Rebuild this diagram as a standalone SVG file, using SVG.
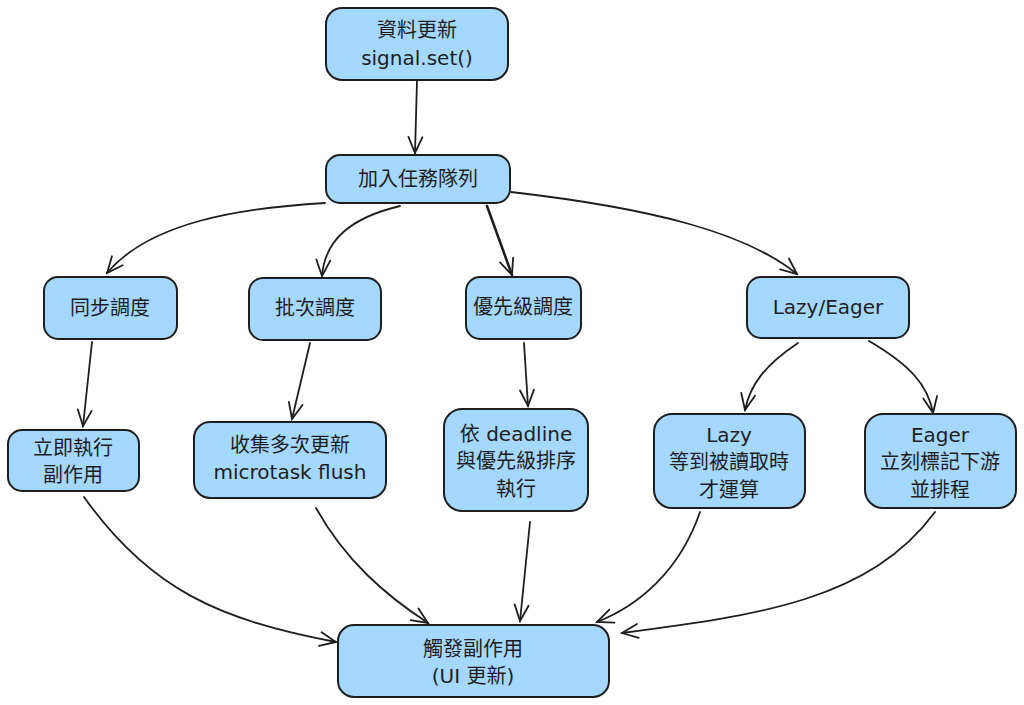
<svg xmlns="http://www.w3.org/2000/svg" width="1024" height="705" viewBox="0 0 1024 705">
<defs>
<style>
.n rect{fill:#a5d8ff;stroke:#1e1e1e;stroke-width:2}
.n text{font-family:"DejaVu Sans","Noto Sans CJK TC",sans-serif;font-size:20px;fill:#1e1e1e;text-anchor:middle}
.c path{fill:none;stroke:#1e1e1e;stroke-width:1.8;stroke-linecap:round}
</style>
<marker id="a" viewBox="0 0 20 20" refX="18" refY="10" markerWidth="20" markerHeight="20" markerUnits="userSpaceOnUse" orient="auto">
<path d="M2 3 L18 10 L2 17" fill="none" stroke="#1e1e1e" stroke-width="1.8" stroke-linecap="round"/>
</marker>
</defs>
<rect width="1024" height="705" fill="#ffffff"/>
<g class="c">
<path d="M417 81 L415 153" marker-end="url(#a)"/>
<path d="M325 203 C240 208 150 222 107 273" marker-end="url(#a)"/>
<path d="M400 206 C350 218 325 240 322 276" marker-end="url(#a)"/>
<path d="M487 206 L512 275" marker-end="url(#a)" style="stroke-width:2.6"/>
<path d="M511 192 C650 208 745 232 797 274" marker-end="url(#a)"/>
<path d="M92 342 L83 426" marker-end="url(#a)"/>
<path d="M310 343 L292 419" marker-end="url(#a)"/>
<path d="M524 343 L528 406" marker-end="url(#a)"/>
<path d="M798 343 C765 365 750 385 745 410" marker-end="url(#a)"/>
<path d="M869 341 C910 365 928 385 933 413" marker-end="url(#a)"/>
<path d="M84 497 C150 590 220 620 336 642" marker-end="url(#a)"/>
<path d="M316 508 C345 560 385 595 428 623" marker-end="url(#a)"/>
<path d="M530 522 L520 621" marker-end="url(#a)"/>
<path d="M700 512 C680 570 640 605 597 622" marker-end="url(#a)"/>
<path d="M935 512 C870 600 760 615 622 633" marker-end="url(#a)"/>
</g>
<g id="n1" class="n"><rect x="326" y="8" width="182" height="72" rx="16"/><text x="417" y="37">資料更新</text><text x="417" y="65">signal.set()</text></g>
<g id="n2" class="n"><rect x="326" y="155" width="184" height="48" rx="14"/><text x="418" y="186">加入任務隊列</text></g>
<g id="n3" class="n"><rect x="44" y="277" width="133" height="62" rx="14"/><text x="110" y="315">同步調度</text></g>
<g id="n4" class="n"><rect x="249" y="278" width="132" height="62" rx="14"/><text x="315" y="315">批次調度</text></g>
<g id="n5" class="n"><rect x="466" y="277" width="115" height="62" rx="14"/><text x="523" y="314">優先級調度</text></g>
<g id="n6" class="n"><rect x="747" y="277" width="162" height="61" rx="14"/><text x="828" y="314">Lazy/Eager</text></g>
<g id="n7" class="n"><rect x="8" y="430" width="131" height="61" rx="14"/><text x="73" y="455">立即執行</text><text x="73" y="482">副作用</text></g>
<g id="n8" class="n"><rect x="194" y="422" width="192" height="76" rx="16"/><text x="290" y="452">收集多次更新</text><text x="290" y="479">microtask flush</text></g>
<g id="n9" class="n"><rect x="444" y="409" width="144" height="102" rx="18"/><text x="516" y="441">依 deadline</text><text x="516" y="468">與優先級排序</text><text x="516" y="496">執行</text></g>
<g id="n10" class="n"><rect x="654" y="414" width="151" height="94" rx="18"/><text x="729" y="442">Lazy</text><text x="729" y="469">等到被讀取時</text><text x="729" y="497">才運算</text></g>
<g id="n11" class="n"><rect x="865" y="414" width="151" height="94" rx="18"/><text x="940" y="442">Eager</text><text x="940" y="469">立刻標記下游</text><text x="940" y="497">並排程</text></g>
<g id="n12" class="n"><rect x="338" y="625" width="271" height="72" rx="16"/><text x="473" y="656">觸發副作用</text><text x="473" y="683">(UI 更新)</text></g>
</svg>
